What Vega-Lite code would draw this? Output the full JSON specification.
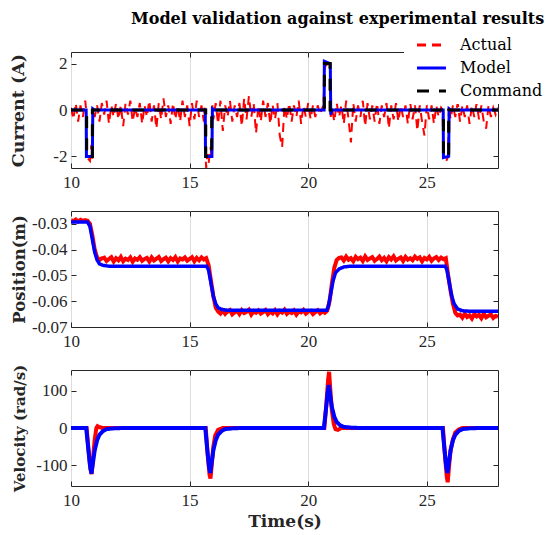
{
  "$schema": "https://vega.github.io/schema/vega-lite/v6.json",
  "padding": {"left": 8, "top": 10, "right": 0, "bottom": 4},
  "title": {"text": "Model validation against experimental results", "font": "DejaVu Serif", "fontSize": 16, "fontWeight": "bold", "color": "#000000", "anchor": "start", "dx": 60, "offset": 5.5, "frame": "group"},
  "spacing": 43,
  "bounds": "flush",
  "datasets": {
    "current": [
      {"series":"Actual","t":10.0,"v":0.1},{"series":"Actual","t":10.1,"v":-0.4},{"series":"Actual","t":10.2,"v":0.3},{"series":"Actual","t":10.3,"v":-0.5},{"series":"Actual","t":10.4,"v":0.2},{"series":"Actual","t":10.5,"v":-0.3},{"series":"Actual","t":10.6,"v":0.4},
      {"series":"Actual","t":10.63,"v":0.1},{"series":"Actual","t":10.65,"v":-2.0},{"series":"Actual","t":10.72,"v":-2.1},{"series":"Actual","t":10.8,"v":-2.2},{"series":"Actual","t":10.86,"v":-1.5},{"series":"Actual","t":10.9,"v":-2.1},{"series":"Actual","t":10.93,"v":0.1},
      {"series":"Actual","t":11.0,"v":-0.3},{"series":"Actual","t":11.1,"v":0.2},{"series":"Actual","t":11.2,"v":-0.5},{"series":"Actual","t":11.3,"v":0.3},{"series":"Actual","t":11.4,"v":-0.2},{"series":"Actual","t":11.5,"v":0.4},{"series":"Actual","t":11.6,"v":-0.6},{"series":"Actual","t":11.7,"v":0.2},{"series":"Actual","t":11.8,"v":-0.3},{"series":"Actual","t":11.9,"v":0.3},
      {"series":"Actual","t":12.0,"v":-0.4},{"series":"Actual","t":12.1,"v":0.2},{"series":"Actual","t":12.2,"v":-0.7},{"series":"Actual","t":12.3,"v":0.3},{"series":"Actual","t":12.4,"v":-0.2},{"series":"Actual","t":12.5,"v":0.4},{"series":"Actual","t":12.6,"v":-0.5},{"series":"Actual","t":12.7,"v":0.1},{"series":"Actual","t":12.8,"v":-0.3},{"series":"Actual","t":12.9,"v":0.3},
      {"series":"Actual","t":13.0,"v":-0.6},{"series":"Actual","t":13.1,"v":0.2},{"series":"Actual","t":13.2,"v":-0.3},{"series":"Actual","t":13.3,"v":0.4},{"series":"Actual","t":13.4,"v":-0.5},{"series":"Actual","t":13.5,"v":0.2},{"series":"Actual","t":13.6,"v":-0.8},{"series":"Actual","t":13.7,"v":0.3},{"series":"Actual","t":13.8,"v":-0.4},{"series":"Actual","t":13.9,"v":0.5},
      {"series":"Actual","t":14.0,"v":-0.3},{"series":"Actual","t":14.1,"v":0.2},{"series":"Actual","t":14.2,"v":-0.6},{"series":"Actual","t":14.3,"v":0.3},{"series":"Actual","t":14.4,"v":-0.4},{"series":"Actual","t":14.5,"v":0.2},{"series":"Actual","t":14.6,"v":-0.5},{"series":"Actual","t":14.7,"v":0.4},{"series":"Actual","t":14.8,"v":-0.3},{"series":"Actual","t":14.9,"v":0.2},
      {"series":"Actual","t":15.0,"v":-0.7},{"series":"Actual","t":15.1,"v":0.3},{"series":"Actual","t":15.2,"v":-0.4},{"series":"Actual","t":15.3,"v":0.4},{"series":"Actual","t":15.4,"v":-0.3},{"series":"Actual","t":15.5,"v":0.2},{"series":"Actual","t":15.6,"v":-0.5},
      {"series":"Actual","t":15.64,"v":0.1},{"series":"Actual","t":15.66,"v":-1.8},{"series":"Actual","t":15.7,"v":-2.5},{"series":"Actual","t":15.75,"v":-1.9},{"series":"Actual","t":15.8,"v":-2.3},{"series":"Actual","t":15.88,"v":-1.6},{"series":"Actual","t":15.94,"v":-2.1},{"series":"Actual","t":15.96,"v":0.2},
      {"series":"Actual","t":16.0,"v":-0.4},{"series":"Actual","t":16.1,"v":0.3},{"series":"Actual","t":16.2,"v":-0.6},{"series":"Actual","t":16.3,"v":0.4},{"series":"Actual","t":16.4,"v":-0.9},{"series":"Actual","t":16.5,"v":0.2},{"series":"Actual","t":16.6,"v":-0.3},{"series":"Actual","t":16.7,"v":0.4},{"series":"Actual","t":16.8,"v":-0.5},{"series":"Actual","t":16.9,"v":0.2},
      {"series":"Actual","t":17.0,"v":-0.3},{"series":"Actual","t":17.1,"v":0.3},{"series":"Actual","t":17.2,"v":-0.7},{"series":"Actual","t":17.3,"v":0.5},{"series":"Actual","t":17.4,"v":-0.4},{"series":"Actual","t":17.5,"v":0.6},{"series":"Actual","t":17.6,"v":-0.3},{"series":"Actual","t":17.7,"v":0.3},{"series":"Actual","t":17.8,"v":-1.0},{"series":"Actual","t":17.9,"v":0.2},
      {"series":"Actual","t":18.0,"v":-0.5},{"series":"Actual","t":18.1,"v":0.4},{"series":"Actual","t":18.2,"v":-0.3},{"series":"Actual","t":18.3,"v":0.3},{"series":"Actual","t":18.4,"v":-0.6},{"series":"Actual","t":18.5,"v":0.2},{"series":"Actual","t":18.6,"v":-0.4},{"series":"Actual","t":18.7,"v":0.3},{"series":"Actual","t":18.8,"v":-1.1},{"series":"Actual","t":18.9,"v":-1.6},
      {"series":"Actual","t":19.0,"v":0.2},{"series":"Actual","t":19.1,"v":-0.4},{"series":"Actual","t":19.2,"v":0.3},{"series":"Actual","t":19.3,"v":-0.5},{"series":"Actual","t":19.4,"v":0.2},{"series":"Actual","t":19.5,"v":-0.3},{"series":"Actual","t":19.6,"v":0.4},{"series":"Actual","t":19.7,"v":-0.6},{"series":"Actual","t":19.8,"v":0.2},{"series":"Actual","t":19.9,"v":-0.3},
      {"series":"Actual","t":20.0,"v":0.3},{"series":"Actual","t":20.1,"v":-0.4},{"series":"Actual","t":20.2,"v":0.2},{"series":"Actual","t":20.3,"v":-0.3},{"series":"Actual","t":20.4,"v":0.2},{"series":"Actual","t":20.5,"v":-0.2},{"series":"Actual","t":20.6,"v":0.1},
      {"series":"Actual","t":20.65,"v":0.0},{"series":"Actual","t":20.67,"v":1.7},{"series":"Actual","t":20.72,"v":1.9},{"series":"Actual","t":20.8,"v":1.95},{"series":"Actual","t":20.88,"v":1.9},{"series":"Actual","t":20.92,"v":1.8},{"series":"Actual","t":20.95,"v":-0.3},{"series":"Actual","t":21.0,"v":0.1},
      {"series":"Actual","t":21.1,"v":-0.5},{"series":"Actual","t":21.2,"v":0.3},{"series":"Actual","t":21.3,"v":-0.3},{"series":"Actual","t":21.4,"v":0.2},{"series":"Actual","t":21.5,"v":-0.6},{"series":"Actual","t":21.6,"v":0.4},{"series":"Actual","t":21.7,"v":-0.4},{"series":"Actual","t":21.8,"v":-1.4},{"series":"Actual","t":21.9,"v":0.3},
      {"series":"Actual","t":22.0,"v":-0.5},{"series":"Actual","t":22.1,"v":0.2},{"series":"Actual","t":22.2,"v":-0.3},{"series":"Actual","t":22.3,"v":0.4},{"series":"Actual","t":22.4,"v":-0.7},{"series":"Actual","t":22.5,"v":0.3},{"series":"Actual","t":22.6,"v":-0.4},{"series":"Actual","t":22.7,"v":0.2},{"series":"Actual","t":22.8,"v":-0.5},{"series":"Actual","t":22.9,"v":0.3},
      {"series":"Actual","t":23.0,"v":-0.6},{"series":"Actual","t":23.1,"v":0.2},{"series":"Actual","t":23.2,"v":-0.3},{"series":"Actual","t":23.3,"v":0.3},{"series":"Actual","t":23.4,"v":-0.8},{"series":"Actual","t":23.5,"v":0.2},{"series":"Actual","t":23.6,"v":-0.4},{"series":"Actual","t":23.7,"v":0.3},{"series":"Actual","t":23.8,"v":-0.5},{"series":"Actual","t":23.9,"v":0.2},
      {"series":"Actual","t":24.0,"v":-0.3},{"series":"Actual","t":24.1,"v":0.2},{"series":"Actual","t":24.2,"v":-0.6},{"series":"Actual","t":24.3,"v":0.3},{"series":"Actual","t":24.4,"v":-0.4},{"series":"Actual","t":24.5,"v":0.2},{"series":"Actual","t":24.6,"v":-0.9},{"series":"Actual","t":24.7,"v":0.2},{"series":"Actual","t":24.8,"v":-0.5},{"series":"Actual","t":24.9,"v":-1.1},
      {"series":"Actual","t":25.0,"v":0.2},{"series":"Actual","t":25.1,"v":-0.4},{"series":"Actual","t":25.2,"v":0.2},{"series":"Actual","t":25.3,"v":-0.6},{"series":"Actual","t":25.4,"v":0.2},{"series":"Actual","t":25.5,"v":-0.3},{"series":"Actual","t":25.6,"v":0.1},
      {"series":"Actual","t":25.67,"v":0.0},{"series":"Actual","t":25.69,"v":-1.9},{"series":"Actual","t":25.75,"v":-2.1},{"series":"Actual","t":25.82,"v":-2.2},{"series":"Actual","t":25.9,"v":-2.0},{"series":"Actual","t":25.93,"v":0.2},
      {"series":"Actual","t":26.0,"v":-0.4},{"series":"Actual","t":26.1,"v":0.2},{"series":"Actual","t":26.2,"v":-0.3},{"series":"Actual","t":26.3,"v":0.3},{"series":"Actual","t":26.4,"v":-0.5},{"series":"Actual","t":26.5,"v":0.2},{"series":"Actual","t":26.6,"v":-0.3},{"series":"Actual","t":26.7,"v":0.2},{"series":"Actual","t":26.8,"v":-0.6},{"series":"Actual","t":26.9,"v":0.2},
      {"series":"Actual","t":27.0,"v":-0.3},{"series":"Actual","t":27.1,"v":0.3},{"series":"Actual","t":27.2,"v":-0.4},{"series":"Actual","t":27.3,"v":0.2},{"series":"Actual","t":27.4,"v":-0.5},{"series":"Actual","t":27.5,"v":-0.8},{"series":"Actual","t":27.6,"v":0.2},{"series":"Actual","t":27.7,"v":-0.3},{"series":"Actual","t":27.8,"v":0.1},{"series":"Actual","t":27.9,"v":-0.2},{"series":"Actual","t":28.0,"v":0.1},

      {"series":"Model","t":10.0,"v":0},{"series":"Model","t":10.64,"v":0},{"series":"Model","t":10.65,"v":-2},{"series":"Model","t":10.9,"v":-2},{"series":"Model","t":10.92,"v":0.05},{"series":"Model","t":10.98,"v":0},
      {"series":"Model","t":15.66,"v":0},{"series":"Model","t":15.67,"v":-2},{"series":"Model","t":15.94,"v":-2},{"series":"Model","t":15.96,"v":0.05},{"series":"Model","t":16.02,"v":0},
      {"series":"Model","t":20.67,"v":0},{"series":"Model","t":20.68,"v":2.1},{"series":"Model","t":20.8,"v":2.05},{"series":"Model","t":20.93,"v":2.0},{"series":"Model","t":20.95,"v":-0.2},{"series":"Model","t":21.0,"v":0},
      {"series":"Model","t":25.69,"v":0},{"series":"Model","t":25.7,"v":-2.05},{"series":"Model","t":25.92,"v":-2},{"series":"Model","t":25.94,"v":0.05},{"series":"Model","t":26.0,"v":0},{"series":"Model","t":28.0,"v":0},

      {"series":"Command","t":10.0,"v":0},{"series":"Command","t":10.66,"v":0},{"series":"Command","t":10.661,"v":-2},{"series":"Command","t":10.9,"v":-2},{"series":"Command","t":10.901,"v":0},
      {"series":"Command","t":15.68,"v":0},{"series":"Command","t":15.681,"v":-2},{"series":"Command","t":15.93,"v":-2},{"series":"Command","t":15.931,"v":0},
      {"series":"Command","t":20.68,"v":0},{"series":"Command","t":20.681,"v":2},{"series":"Command","t":20.92,"v":2},{"series":"Command","t":20.921,"v":0},
      {"series":"Command","t":25.7,"v":0},{"series":"Command","t":25.701,"v":-2},{"series":"Command","t":25.92,"v":-2},{"series":"Command","t":25.921,"v":0},{"series":"Command","t":28.0,"v":0}
    ],
    "position": [
      {"series":"Actual","t":10.0,"v":-0.0285},{"series":"Actual","t":10.1,"v":-0.0290},{"series":"Actual","t":10.2,"v":-0.0283},{"series":"Actual","t":10.3,"v":-0.0291},{"series":"Actual","t":10.4,"v":-0.0284},{"series":"Actual","t":10.5,"v":-0.0289},{"series":"Actual","t":10.6,"v":-0.0285},
      {"series":"Actual","t":10.7,"v":-0.0288},{"series":"Actual","t":10.8,"v":-0.0300},{"series":"Actual","t":10.9,"v":-0.0345},{"series":"Actual","t":11.0,"v":-0.0400},{"series":"Actual","t":11.1,"v":-0.0430},{"series":"Actual","t":11.2,"v":-0.0440},{"series":"Actual","t":11.3,"v":-0.0434},
      {"series":"Actual","t":11.4,"v":-0.0431},{"series":"Actual","t":11.5,"v":-0.0444},{"series":"Actual","t":11.6,"v":-0.0436},{"series":"Actual","t":11.7,"v":-0.0429},{"series":"Actual","t":11.8,"v":-0.0446},{"series":"Actual","t":11.9,"v":-0.0433},{"series":"Actual","t":12.0,"v":-0.0441},{"series":"Actual","t":12.1,"v":-0.0428},{"series":"Actual","t":12.2,"v":-0.0445},{"series":"Actual","t":12.3,"v":-0.0435},
      {"series":"Actual","t":12.4,"v":-0.0440},{"series":"Actual","t":12.5,"v":-0.0430},{"series":"Actual","t":12.6,"v":-0.0447},{"series":"Actual","t":12.7,"v":-0.0434},{"series":"Actual","t":12.8,"v":-0.0439},{"series":"Actual","t":12.9,"v":-0.0429},{"series":"Actual","t":13.0,"v":-0.0443},{"series":"Actual","t":13.1,"v":-0.0436},{"series":"Actual","t":13.2,"v":-0.0432},{"series":"Actual","t":13.3,"v":-0.0446},
      {"series":"Actual","t":13.4,"v":-0.0430},{"series":"Actual","t":13.5,"v":-0.0442},{"series":"Actual","t":13.6,"v":-0.0435},{"series":"Actual","t":13.7,"v":-0.0428},{"series":"Actual","t":13.8,"v":-0.0444},{"series":"Actual","t":13.9,"v":-0.0437},{"series":"Actual","t":14.0,"v":-0.0431},{"series":"Actual","t":14.1,"v":-0.0445},{"series":"Actual","t":14.2,"v":-0.0433},{"series":"Actual","t":14.3,"v":-0.0440},
      {"series":"Actual","t":14.4,"v":-0.0429},{"series":"Actual","t":14.5,"v":-0.0446},{"series":"Actual","t":14.6,"v":-0.0434},{"series":"Actual","t":14.7,"v":-0.0438},{"series":"Actual","t":14.8,"v":-0.0430},{"series":"Actual","t":14.9,"v":-0.0443},{"series":"Actual","t":15.0,"v":-0.0436},{"series":"Actual","t":15.1,"v":-0.0429},{"series":"Actual","t":15.2,"v":-0.0445},{"series":"Actual","t":15.3,"v":-0.0432},
      {"series":"Actual","t":15.4,"v":-0.0441},{"series":"Actual","t":15.5,"v":-0.0430},{"series":"Actual","t":15.6,"v":-0.0438},{"series":"Actual","t":15.7,"v":-0.0433},
      {"series":"Actual","t":15.8,"v":-0.0460},{"series":"Actual","t":15.9,"v":-0.0520},{"series":"Actual","t":16.0,"v":-0.0580},{"series":"Actual","t":16.1,"v":-0.0625},{"series":"Actual","t":16.2,"v":-0.0640},{"series":"Actual","t":16.3,"v":-0.0648},
      {"series":"Actual","t":16.4,"v":-0.0636},{"series":"Actual","t":16.5,"v":-0.0649},{"series":"Actual","t":16.6,"v":-0.0640},{"series":"Actual","t":16.7,"v":-0.0634},{"series":"Actual","t":16.8,"v":-0.0651},{"series":"Actual","t":16.9,"v":-0.0643},{"series":"Actual","t":17.0,"v":-0.0638},{"series":"Actual","t":17.1,"v":-0.0650},{"series":"Actual","t":17.2,"v":-0.0635},{"series":"Actual","t":17.3,"v":-0.0646},
      {"series":"Actual","t":17.4,"v":-0.0641},{"series":"Actual","t":17.5,"v":-0.0633},{"series":"Actual","t":17.6,"v":-0.0652},{"series":"Actual","t":17.7,"v":-0.0639},{"series":"Actual","t":17.8,"v":-0.0645},{"series":"Actual","t":17.9,"v":-0.0636},{"series":"Actual","t":18.0,"v":-0.0648},{"series":"Actual","t":18.1,"v":-0.0642},{"series":"Actual","t":18.2,"v":-0.0634},{"series":"Actual","t":18.3,"v":-0.0650},
      {"series":"Actual","t":18.4,"v":-0.0640},{"series":"Actual","t":18.5,"v":-0.0647},{"series":"Actual","t":18.6,"v":-0.0635},{"series":"Actual","t":18.7,"v":-0.0651},{"series":"Actual","t":18.8,"v":-0.0638},{"series":"Actual","t":18.9,"v":-0.0644},{"series":"Actual","t":19.0,"v":-0.0633},{"series":"Actual","t":19.1,"v":-0.0649},{"series":"Actual","t":19.2,"v":-0.0641},{"series":"Actual","t":19.3,"v":-0.0646},
      {"series":"Actual","t":19.4,"v":-0.0636},{"series":"Actual","t":19.5,"v":-0.0652},{"series":"Actual","t":19.6,"v":-0.0639},{"series":"Actual","t":19.7,"v":-0.0643},{"series":"Actual","t":19.8,"v":-0.0634},{"series":"Actual","t":19.9,"v":-0.0648},{"series":"Actual","t":20.0,"v":-0.0640},{"series":"Actual","t":20.1,"v":-0.0637},{"series":"Actual","t":20.2,"v":-0.0650},{"series":"Actual","t":20.3,"v":-0.0642},
      {"series":"Actual","t":20.4,"v":-0.0635},{"series":"Actual","t":20.5,"v":-0.0647},{"series":"Actual","t":20.6,"v":-0.0639},{"series":"Actual","t":20.7,"v":-0.0645},{"series":"Actual","t":20.8,"v":-0.0637},
      {"series":"Actual","t":20.9,"v":-0.0600},{"series":"Actual","t":21.0,"v":-0.0530},{"series":"Actual","t":21.1,"v":-0.0470},{"series":"Actual","t":21.2,"v":-0.0440},{"series":"Actual","t":21.3,"v":-0.0432},
      {"series":"Actual","t":21.4,"v":-0.0430},{"series":"Actual","t":21.5,"v":-0.0442},{"series":"Actual","t":21.6,"v":-0.0427},{"series":"Actual","t":21.7,"v":-0.0439},{"series":"Actual","t":21.8,"v":-0.0433},{"series":"Actual","t":21.9,"v":-0.0445},{"series":"Actual","t":22.0,"v":-0.0428},{"series":"Actual","t":22.1,"v":-0.0437},{"series":"Actual","t":22.2,"v":-0.0431},{"series":"Actual","t":22.3,"v":-0.0444},
      {"series":"Actual","t":22.4,"v":-0.0426},{"series":"Actual","t":22.5,"v":-0.0440},{"series":"Actual","t":22.6,"v":-0.0434},{"series":"Actual","t":22.7,"v":-0.0429},{"series":"Actual","t":22.8,"v":-0.0443},{"series":"Actual","t":22.9,"v":-0.0436},{"series":"Actual","t":23.0,"v":-0.0427},{"series":"Actual","t":23.1,"v":-0.0441},{"series":"Actual","t":23.2,"v":-0.0432},{"series":"Actual","t":23.3,"v":-0.0445},
      {"series":"Actual","t":23.4,"v":-0.0429},{"series":"Actual","t":23.5,"v":-0.0438},{"series":"Actual","t":23.6,"v":-0.0426},{"series":"Actual","t":23.7,"v":-0.0442},{"series":"Actual","t":23.8,"v":-0.0435},{"series":"Actual","t":23.9,"v":-0.0430},{"series":"Actual","t":24.0,"v":-0.0444},{"series":"Actual","t":24.1,"v":-0.0428},{"series":"Actual","t":24.2,"v":-0.0439},{"series":"Actual","t":24.3,"v":-0.0433},
      {"series":"Actual","t":24.4,"v":-0.0441},{"series":"Actual","t":24.5,"v":-0.0427},{"series":"Actual","t":24.6,"v":-0.0436},{"series":"Actual","t":24.7,"v":-0.0430},{"series":"Actual","t":24.8,"v":-0.0445},{"series":"Actual","t":24.9,"v":-0.0432},{"series":"Actual","t":25.0,"v":-0.0438},{"series":"Actual","t":25.1,"v":-0.0428},{"series":"Actual","t":25.2,"v":-0.0443},{"series":"Actual","t":25.3,"v":-0.0434},
      {"series":"Actual","t":25.4,"v":-0.0429},{"series":"Actual","t":25.5,"v":-0.0440},{"series":"Actual","t":25.6,"v":-0.0431},{"series":"Actual","t":25.7,"v":-0.0437},{"series":"Actual","t":25.8,"v":-0.0433},
      {"series":"Actual","t":25.9,"v":-0.0500},{"series":"Actual","t":26.0,"v":-0.0560},{"series":"Actual","t":26.1,"v":-0.0610},{"series":"Actual","t":26.2,"v":-0.0645},{"series":"Actual","t":26.3,"v":-0.0655},
      {"series":"Actual","t":26.4,"v":-0.0652},{"series":"Actual","t":26.5,"v":-0.0664},{"series":"Actual","t":26.6,"v":-0.0649},{"series":"Actual","t":26.7,"v":-0.0661},{"series":"Actual","t":26.8,"v":-0.0655},{"series":"Actual","t":26.9,"v":-0.0667},{"series":"Actual","t":27.0,"v":-0.0650},{"series":"Actual","t":27.1,"v":-0.0659},{"series":"Actual","t":27.2,"v":-0.0653},{"series":"Actual","t":27.3,"v":-0.0666},
      {"series":"Actual","t":27.4,"v":-0.0648},{"series":"Actual","t":27.5,"v":-0.0662},{"series":"Actual","t":27.6,"v":-0.0656},{"series":"Actual","t":27.7,"v":-0.0651},{"series":"Actual","t":27.8,"v":-0.0665},{"series":"Actual","t":27.9,"v":-0.0657},{"series":"Actual","t":28.0,"v":-0.0660},

      {"series":"Model","t":10.0,"v":-0.0293},{"series":"Model","t":10.7,"v":-0.0293},{"series":"Model","t":10.8,"v":-0.031},{"series":"Model","t":10.9,"v":-0.036},{"series":"Model","t":11.0,"v":-0.041},{"series":"Model","t":11.1,"v":-0.0440},{"series":"Model","t":11.2,"v":-0.0455},{"series":"Model","t":11.35,"v":-0.0461},{"series":"Model","t":11.6,"v":-0.0464},
      {"series":"Model","t":15.72,"v":-0.0464},{"series":"Model","t":15.8,"v":-0.048},{"series":"Model","t":15.9,"v":-0.053},{"series":"Model","t":16.0,"v":-0.058},{"series":"Model","t":16.1,"v":-0.061},{"series":"Model","t":16.2,"v":-0.0625},{"series":"Model","t":16.35,"v":-0.0632},{"series":"Model","t":16.6,"v":-0.0635},
      {"series":"Model","t":20.78,"v":-0.0635},{"series":"Model","t":20.85,"v":-0.062},{"series":"Model","t":20.95,"v":-0.057},{"series":"Model","t":21.05,"v":-0.052},{"series":"Model","t":21.15,"v":-0.049},{"series":"Model","t":21.3,"v":-0.0475},{"series":"Model","t":21.5,"v":-0.0467},{"series":"Model","t":21.8,"v":-0.0464},
      {"series":"Model","t":25.78,"v":-0.0464},{"series":"Model","t":25.85,"v":-0.048},{"series":"Model","t":25.95,"v":-0.053},{"series":"Model","t":26.05,"v":-0.058},{"series":"Model","t":26.15,"v":-0.061},{"series":"Model","t":26.3,"v":-0.063},{"series":"Model","t":26.5,"v":-0.0637},{"series":"Model","t":26.8,"v":-0.0639},{"series":"Model","t":28.0,"v":-0.0639}
    ],
    "velocity": [
      {"series":"Actual","t":10.0,"v":0},{"series":"Actual","t":10.66,"v":0},{"series":"Actual","t":10.74,"v":-60},{"series":"Actual","t":10.82,"v":-110},{"series":"Actual","t":10.87,"v":-123},{"series":"Actual","t":10.93,"v":-80},{"series":"Actual","t":11.0,"v":-30},{"series":"Actual","t":11.07,"v":0},{"series":"Actual","t":11.12,"v":5},{"series":"Actual","t":11.2,"v":2},{"series":"Actual","t":11.35,"v":0},
      {"series":"Actual","t":15.68,"v":0},{"series":"Actual","t":15.76,"v":-70},{"series":"Actual","t":15.84,"v":-125},{"series":"Actual","t":15.88,"v":-135},{"series":"Actual","t":15.94,"v":-95},{"series":"Actual","t":16.0,"v":-50},{"series":"Actual","t":16.08,"v":-20},{"series":"Actual","t":16.2,"v":-5},{"series":"Actual","t":16.4,"v":0},
      {"series":"Actual","t":20.68,"v":0},{"series":"Actual","t":20.76,"v":60},{"series":"Actual","t":20.84,"v":130},{"series":"Actual","t":20.88,"v":150},{"series":"Actual","t":20.94,"v":95},{"series":"Actual","t":21.0,"v":45},{"series":"Actual","t":21.08,"v":10},{"series":"Actual","t":21.15,"v":-3},{"series":"Actual","t":21.25,"v":-5},{"series":"Actual","t":21.4,"v":0},
      {"series":"Actual","t":25.68,"v":0},{"series":"Actual","t":25.76,"v":-70},{"series":"Actual","t":25.84,"v":-130},{"series":"Actual","t":25.88,"v":-145},{"series":"Actual","t":25.94,"v":-100},{"series":"Actual","t":26.0,"v":-60},{"series":"Actual","t":26.1,"v":-30},{"series":"Actual","t":26.2,"v":-12},{"series":"Actual","t":26.35,"v":-4},{"series":"Actual","t":26.5,"v":0},{"series":"Actual","t":28.0,"v":0},

      {"series":"Model","t":10.0,"v":0},{"series":"Model","t":10.64,"v":0},{"series":"Model","t":10.72,"v":-50},{"series":"Model","t":10.8,"v":-100},{"series":"Model","t":10.86,"v":-122},{"series":"Model","t":10.92,"v":-95},{"series":"Model","t":11.0,"v":-60},{"series":"Model","t":11.1,"v":-33},{"series":"Model","t":11.2,"v":-18},{"series":"Model","t":11.35,"v":-8},{"series":"Model","t":11.5,"v":-3},{"series":"Model","t":11.8,"v":-1},{"series":"Model","t":12.2,"v":0},
      {"series":"Model","t":15.66,"v":0},{"series":"Model","t":15.74,"v":-55},{"series":"Model","t":15.82,"v":-105},{"series":"Model","t":15.87,"v":-120},{"series":"Model","t":15.93,"v":-92},{"series":"Model","t":16.0,"v":-60},{"series":"Model","t":16.1,"v":-33},{"series":"Model","t":16.2,"v":-18},{"series":"Model","t":16.35,"v":-8},{"series":"Model","t":16.5,"v":-3},{"series":"Model","t":16.8,"v":-1},{"series":"Model","t":17.2,"v":0},
      {"series":"Model","t":20.66,"v":0},{"series":"Model","t":20.74,"v":45},{"series":"Model","t":20.82,"v":95},{"series":"Model","t":20.87,"v":115},{"series":"Model","t":20.93,"v":85},{"series":"Model","t":21.0,"v":55},{"series":"Model","t":21.1,"v":30},{"series":"Model","t":21.2,"v":16},{"series":"Model","t":21.35,"v":7},{"series":"Model","t":21.5,"v":3},{"series":"Model","t":21.8,"v":1},{"series":"Model","t":22.2,"v":0},
      {"series":"Model","t":25.66,"v":0},{"series":"Model","t":25.74,"v":-55},{"series":"Model","t":25.82,"v":-105},{"series":"Model","t":25.87,"v":-120},{"series":"Model","t":25.93,"v":-92},{"series":"Model","t":26.0,"v":-60},{"series":"Model","t":26.1,"v":-33},{"series":"Model","t":26.2,"v":-18},{"series":"Model","t":26.35,"v":-8},{"series":"Model","t":26.5,"v":-3},{"series":"Model","t":26.8,"v":-1},{"series":"Model","t":27.2,"v":0},{"series":"Model","t":28.0,"v":0}
    ]
  },
  "vconcat": [
    {
      "width": 427, "height": 116,
      "data": {"name": "current"},
      "resolve": {"axis": {"x": "independent", "y": "independent"}},
      "layer": [
        {
          "encoding": {
            "x": {"field": "t", "type": "quantitative", "scale": {"domain": [10, 28], "nice": false, "zero": false}, "axis": {"values": [10, 15, 20, 25], "title": null}},
            "y": {"field": "v", "type": "quantitative", "scale": {"domain": [-2.5, 2.5], "nice": false, "zero": false}, "axis": {"values": [-2, 0, 2], "title": "Current (A)", "titleFontSize": 17.5, "labelExpr": "(datum.value < 0 ? '-' : '') + format(abs(datum.value), 'd')"}},
            "color": {"field": "series", "type": "nominal", "scale": {"domain": ["Actual", "Model", "Command"], "range": ["#ff0000", "#0000ff", "#000000"]}, "legend": {"title": null}},
            "strokeDash": {"field": "series", "type": "nominal", "scale": {"domain": ["Actual", "Model", "Command"], "range": [[9, 6], [1, 0], [12, 10]]}, "legend": {"title": null}}
          },
          "layer": [
            {"transform": [{"filter": "datum.series === 'Actual'"}], "mark": {"type": "line", "strokeWidth": 2, "clip": true}},
            {"transform": [{"filter": "datum.series === 'Model'"}], "mark": {"type": "line", "strokeWidth": 3, "clip": true}},
            {"transform": [{"filter": "datum.series === 'Command'"}], "mark": {"type": "line", "strokeWidth": 3, "clip": true}}
          ]
        },
        {
          "transform": [{"filter": "datum.series === 'Command'"}],
          "mark": {"type": "line", "opacity": 0},
          "encoding": {
            "x": {"field": "t", "type": "quantitative", "scale": {"domain": [10, 28], "nice": false, "zero": false}, "axis": {"orient": "top", "values": [10, 15, 20, 25], "labels": false, "grid": false, "title": null}},
            "y": {"field": "v", "type": "quantitative", "scale": {"domain": [-2.5, 2.5], "nice": false, "zero": false}, "axis": {"orient": "right", "values": [-2, 0, 2], "labels": false, "title": null}}
          }
        }
      ]
    },
    {
      "width": 427, "height": 116,
      "data": {"name": "position"},
      "resolve": {"axis": {"x": "independent", "y": "independent"}},
      "layer": [
        {
          "encoding": {
            "x": {"field": "t", "type": "quantitative", "scale": {"domain": [10, 28], "nice": false, "zero": false}, "axis": {"values": [10, 15, 20, 25], "title": null}},
            "y": {"field": "v", "type": "quantitative", "scale": {"domain": [-0.07, -0.025], "nice": false, "zero": false}, "axis": {"values": [-0.07, -0.06, -0.05, -0.04, -0.03], "title": "Position(m)", "titleFontSize": 16.5, "labelExpr": "(datum.value < 0 ? '-' : '') + format(abs(datum.value), '.2f')"}},
            "color": {"field": "series", "type": "nominal", "scale": {"domain": ["Actual", "Model", "Command"], "range": ["#ff0000", "#0000ff", "#000000"]}, "legend": {"title": null}},
            "strokeDash": {"field": "series", "type": "nominal", "scale": {"domain": ["Actual", "Model", "Command"], "range": [[9, 6], [1, 0], [12, 10]]}, "legend": {"title": null}}
          },
          "layer": [
            {"transform": [{"filter": "datum.series === 'Actual'"}], "mark": {"type": "line", "strokeWidth": 4, "clip": true}, "encoding": {"strokeDash": {"value": [1, 0]}}},
            {"transform": [{"filter": "datum.series === 'Model'"}], "mark": {"type": "line", "strokeWidth": 3.5, "clip": true}}
          ]
        },
        {
          "transform": [{"filter": "datum.series === 'Model'"}],
          "mark": {"type": "line", "opacity": 0},
          "encoding": {
            "x": {"field": "t", "type": "quantitative", "scale": {"domain": [10, 28], "nice": false, "zero": false}, "axis": {"orient": "top", "values": [10, 15, 20, 25], "labels": false, "grid": false, "title": null}},
            "y": {"field": "v", "type": "quantitative", "scale": {"domain": [-0.07, -0.025], "nice": false, "zero": false}, "axis": {"orient": "right", "values": [-0.07, -0.06, -0.05, -0.04, -0.03], "labels": false, "title": null}}
          }
        }
      ]
    },
    {
      "width": 427, "height": 116,
      "data": {"name": "velocity"},
      "resolve": {"axis": {"x": "independent", "y": "independent"}},
      "layer": [
        {
          "encoding": {
            "x": {"field": "t", "type": "quantitative", "scale": {"domain": [10, 28], "nice": false, "zero": false}, "axis": {"values": [10, 15, 20, 25], "title": "Time(s)", "titleFontSize": 17, "titlePadding": 5}},
            "y": {"field": "v", "type": "quantitative", "scale": {"domain": [-155, 155], "nice": false, "zero": false}, "axis": {"values": [-100, 0, 100], "title": "Velocity (rad/s)", "titleFontSize": 15, "labelExpr": "(datum.value < 0 ? '-' : '') + format(abs(datum.value), 'd')"}},
            "color": {"field": "series", "type": "nominal", "scale": {"domain": ["Actual", "Model", "Command"], "range": ["#ff0000", "#0000ff", "#000000"]}, "legend": {"title": null}},
            "strokeDash": {"field": "series", "type": "nominal", "scale": {"domain": ["Actual", "Model", "Command"], "range": [[9, 6], [1, 0], [12, 10]]}, "legend": {"title": null}}
          },
          "layer": [
            {"transform": [{"filter": "datum.series === 'Actual'"}], "mark": {"type": "line", "strokeWidth": 4, "clip": true}, "encoding": {"strokeDash": {"value": [1, 0]}}},
            {"transform": [{"filter": "datum.series === 'Model'"}], "mark": {"type": "line", "strokeWidth": 4, "clip": true}}
          ]
        },
        {
          "transform": [{"filter": "datum.series === 'Model'"}],
          "mark": {"type": "line", "opacity": 0},
          "encoding": {
            "x": {"field": "t", "type": "quantitative", "scale": {"domain": [10, 28], "nice": false, "zero": false}, "axis": {"orient": "top", "values": [10, 15, 20, 25], "labels": false, "grid": false, "title": null}},
            "y": {"field": "v", "type": "quantitative", "scale": {"domain": [-155, 155], "nice": false, "zero": false}, "axis": {"orient": "right", "values": [-100, 0, 100], "labels": false, "title": null}}
          }
        }
      ]
    }
  ],
  "config": {
    "font": "Liberation Serif",
    "background": "white",
    "view": {"stroke": "#262626", "strokeWidth": 1},
    "axis": {"domain": false, "grid": false, "labelFont": "Liberation Serif", "labelFontSize": 17, "labelColor": "#262626", "titleFont": "DejaVu Serif", "titleFontSize": 17, "titleFontWeight": "bold", "titleColor": "#262626", "tickColor": "#262626", "tickSize": -5, "labelPadding": 11},
    "axisX": {"grid": true, "gridColor": "#dcdcdc", "gridWidth": 1, "labelFlush": false, "titlePadding": 4},
    "axisY": {"titleX": -44, "labelPadding": 9},
    "legend": {"orient": "none", "legendX": 333, "legendY": -20, "fillColor": "white", "padding": 5, "symbolType": "M0,0H10.3", "symbolSize": 31.6, "symbolStrokeWidth": 3, "labelFont": "DejaVu Serif", "labelFontSize": 16, "labelColor": "#000000", "labelOffset": 35, "rowPadding": 7}
  }
}
